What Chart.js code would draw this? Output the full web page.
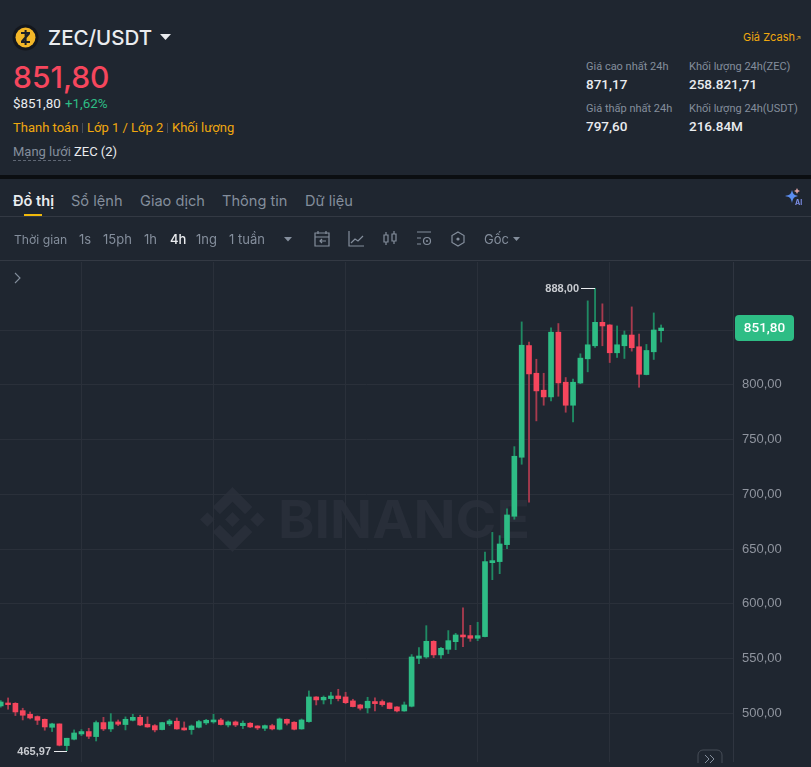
<!DOCTYPE html>
<html>
<head>
<meta charset="utf-8">
<title>ZEC/USDT</title>
<script src="https://cdn.jsdelivr.net/npm/chart.js@4"></script>
<style>
  html, body { margin: 0; padding: 0; background: #1f2630; overflow: hidden; }
  body { width: 811px; height: 767px; position: relative; font-family: Inter, "Liberation Sans", Arial, sans-serif; color: #eaecef; }
  .t { position: absolute; white-space: nowrap; line-height: 1; }
  .r { font-family: Roboto, sans-serif; }
  .gold { color: #f0a80f; }
  .grey { color: #848e9c; }
  .sep { position: absolute; top: 123px; width: 1px; height: 10px; background: #474d57; }
  .hline { position: absolute; left: 0; width: 811px; height: 1px; background: #333943; }
  .tab { font-size: 14.6px; color: #848e9c; top: 194px; }
  .tool { font-size: 13px; color: #848e9c; top: 233px; }
  .lab { font-size: 11px; color: #848e9c; font-family: Roboto, sans-serif; }
  .val { font-size: 13.5px; color: #eaecef; font-weight: 500; font-family: Roboto, sans-serif; }
  svg.abs { position: absolute; left: 0; top: 0; }
  #chartWrap { position: absolute; left: 0; top: 262px; width: 811px; height: 500px; }
</style>
</head>
<body>

<!-- watermark sits under the transparent canvas -->
<svg class="abs" width="811" height="767">
  <g fill="#282e39" transform="translate(200,487) scale(0.513)">
    <path d="M38.73 53.2l24.59-24.58 24.6 24.6 14.3-14.31L63.32 0 24.42 38.9l14.31 14.3M0 63.31l14.3-14.31 14.31 14.31-14.31 14.3zM38.73 73.41l24.59 24.59 24.6-24.6 14.31 14.29-38.9 38.91-38.91-38.88-.02-.02 14.33-14.29M98 63.31l14.3-14.31 14.31 14.3-14.31 14.32zM77.83 63.3L63.32 48.78 52.59 59.51l-1.24 1.23-2.54 2.54 14.51 14.5 14.51-14.47z"/>
  </g>
  <text x="278" y="538" fill="#282e39" font-family="Inter" font-weight="700" font-size="52" textLength="252" lengthAdjust="spacingAndGlyphs">BINANCE</text>
</svg>

<div id="chartWrap"><canvas id="candleChart" width="811" height="500"></canvas></div>

<!-- header -->
<svg class="abs" width="811" height="180">
  <circle cx="25.5" cy="37.5" r="13" fill="#14171d"/>
  <circle cx="25.5" cy="37.5" r="10" fill="#f4b728"/>
  <path d="M21 32h9v2l-6 7h6v2h-9v-2l6-7h-6z M24.6 30h2v15h-2z" fill="#1c1f26"/>
  <path d="M160 34h11l-5.5 6z" fill="#eaecef"/>
  <path d="M796.5 40l3.5-3.5m-2.5 0h2.500v2.500" stroke="#c99a2e" fill="none" stroke-width="0.9"/>
</svg>
<div class="t" style="left:48px;top:28px;font-size:20.5px;font-weight:500;">ZEC/USDT</div>
<div class="t" style="left:13px;top:62px;font-size:30px;font-weight:500;color:#f6465d;">851,80</div>
<div class="t r" style="left:13px;top:97px;font-size:13.4px;">$851,80</div>
<div class="t r" style="left:65px;top:97px;font-size:13.4px;color:#2ebd85;">+1,62%</div>
<div class="t r gold" style="left:13px;top:121px;font-size:13px;">Thanh toán</div>
<div class="sep" style="left:82px;"></div>
<div class="t r gold" style="left:87px;top:121px;font-size:13px;">Lớp 1 / Lớp 2</div>
<div class="sep" style="left:167px;"></div>
<div class="t r gold" style="left:172px;top:121px;font-size:13px;">Khối lượng</div>
<div class="t r grey" style="left:13px;top:145px;font-size:13px;padding-bottom:2px;border-bottom:1px dashed #5e6673;">Mạng lưới</div>
<div class="t r" style="left:74px;top:145px;font-size:13px;">ZEC (2)</div>

<div class="t gold" style="left:743px;top:32px;font-size:11px;">Giá Zcash</div>
<div class="t lab" style="left:586px;top:61px;">Giá cao nhất 24h</div>
<div class="t val" style="left:586px;top:78px;">871,17</div>
<div class="t lab" style="left:586px;top:103px;">Giá thấp nhất 24h</div>
<div class="t val" style="left:586px;top:120px;">797,60</div>
<div class="t lab" style="left:689px;top:61px;">Khối lượng 24h(ZEC)</div>
<div class="t val" style="left:689px;top:78px;">258.821,71</div>
<div class="t lab" style="left:689px;top:103px;">Khối lượng 24h(USDT)</div>
<div class="t val" style="left:689px;top:120px;">216.84M</div>

<div style="position:absolute;left:0;top:175px;width:811px;height:4px;background:#0b0e11;"></div>

<!-- tabs -->
<div class="t tab" style="left:13px;color:#eaecef;font-weight:600;">Đồ thị</div>
<div class="t tab" style="left:71px;">Sổ lệnh</div>
<div class="t tab" style="left:140px;">Giao dịch</div>
<div class="t tab" style="left:222px;">Thông tin</div>
<div class="t tab" style="left:305px;">Dữ liệu</div>
<div style="position:absolute;left:24px;top:214px;width:18px;height:2px;background:#f0b90b;"></div>
<div class="hline" style="top:216px;"></div>

<svg class="abs" width="811" height="290">
  <path d="M792 190c1 4 2 5 6 6-4 1-5 2-6 7-1-5-2-6-7-7 5-1 6-2 7-6z" fill="#5b8def"/>
  <path d="M797 188l1 2 2 1-2 1-1 2-1-2-2-1 2-1z" fill="#d9a0a0"/>
  <text x="795" y="205" fill="#7d8fe8" font-size="7" font-weight="700" font-family="Inter">AI</text>
  <g fill="none" stroke="#848e9c" stroke-width="1.2">
    <path d="M315 233h14v13h-14z M315 237h14 M318 231v3 M326 231v3 M326 241h-6m2-2l-2 2 2 2"/>
    <path d="M349 231v15h15 M351 243l4-4 3 2 5-5"/>
    <path d="M384 235h4v7h-4z M392 234h4v7h-4z M386 232v3 M386 242v3 M394 231v3 M394 241v3"/>
    <path d="M417 232h14 M417 238h4 M417 244h4"/>
    <circle cx="427" cy="241" r="3.5"/>
    <path d="M458 232l6 3.5v7l-6 3.5-6-3.5v-7z"/>
  </g>
  <circle cx="427" cy="241" r="1" fill="#848e9c"/>
  <circle cx="458" cy="239" r="1.6" fill="#848e9c"/>
  <path d="M284 237h8l-4 4.5z M513 237h7l-3.500 4z" fill="#848e9c"/>
  <path d="M15 273l5 5-5 5" stroke="#848e9c" fill="none" stroke-width="1.1"/>
</svg>
<div class="t tool" style="left:14px;font-size:12.2px;top:233.500px;">Thời gian</div>
<div class="t tool" style="left:79px;">1s</div>
<div class="t tool" style="left:103px;">15ph</div>
<div class="t tool" style="left:144px;">1h</div>
<div class="t tool" style="left:170px;color:#eaecef;font-weight:500;">4h</div>
<div class="t tool" style="left:196px;">1ng</div>
<div class="t tool" style="left:229px;">1 tuần</div>
<div class="t tool" style="left:484px;">Gốc</div>
<div class="hline" style="top:260px;"></div>

<!-- scroll to latest button -->
<svg class="abs" width="811" height="767" style="pointer-events:none;">
  <path d="M698 763v-8a5 5 0 0 1 5-5h14a5 5 0 0 1 5 5v8" fill="#1f2630" stroke="#474d57"/>
  <path d="M705 755l4 4-4 4 M710 755l4 4-4 4" stroke="#848e9c" fill="none"/>
</svg>

<script>
const opens = [506.7, 509.4, 509.1, 502.4, 499.1, 497.0, 494.5, 487.2, 490.3, 470.5,
  476.3, 481.1, 483.3, 478.7, 491.5, 485.7, 492.1, 489.7, 493.6, 496.3,
  490.0, 488.7, 485.1, 490.3, 492.7, 486.6, 485.1, 487.2, 491.2, 492.1,
  493.9, 489.3, 492.1, 488.7, 490.9, 488.4, 486.3, 488.7, 485.4, 494.5,
  491.8, 485.7, 492.4, 514.9, 512.2, 513.4, 515.8, 514.9, 511.3, 507.6,
  504.9, 510.7, 510.7, 509.4, 505.8, 502.1, 506.4, 550.2, 551.4, 565.7,
  553.3, 558.4, 565.4, 571.5, 570.9, 568.5, 570.0, 637.5, 638.5, 654.0,
  679.9, 733.8, 835.8, 810.5, 795.0, 788.9, 848.0, 802.3, 781.3, 801.6,
  823.7, 835.6, 857.0, 854.6, 829.2, 835.6, 845.4, 834.7, 809.3, 830.1, 849.4];
const highs = [511.6, 514.0, 509.7, 504.6, 501.2, 497.6, 494.8, 490.9, 490.3, 477.2,
  484.8, 485.1, 486.3, 493.0, 496.3, 499.7, 493.9, 496.7, 499.1, 498.2,
  496.7, 489.7, 491.8, 494.5, 495.7, 492.1, 489.3, 493.6, 494.5, 499.1,
  495.4, 493.0, 493.0, 493.0, 491.5, 488.7, 489.3, 490.0, 495.7, 494.8,
  492.4, 494.8, 520.4, 515.2, 515.8, 519.2, 521.9, 519.2, 512.8, 508.2,
  514.6, 514.0, 512.2, 509.7, 506.1, 510.3, 553.6, 559.9, 580.0, 566.3,
  560.3, 575.5, 573.0, 596.2, 580.3, 583.1, 647.3, 665.2, 662.2, 686.8,
  743.5, 857.4, 838.9, 823.3, 810.5, 851.9, 855.9, 806.6, 805.1, 828.3,
  876.6, 888.0, 873.9, 854.9, 853.7, 849.1, 871.1, 846.3, 836.8, 865.6, 854.6];
const lows = [505.5, 503.7, 497.9, 493.9, 494.8, 489.7, 484.5, 483.3, 470.2, 465.97,
  475.7, 479.6, 476.9, 474.7, 484.2, 483.3, 488.7, 484.8, 493.0, 488.7,
  487.2, 483.0, 484.8, 488.7, 485.4, 484.5, 480.8, 486.6, 489.7, 490.9,
  489.3, 487.5, 487.8, 486.0, 486.9, 485.1, 484.2, 484.8, 484.8, 489.3,
  484.8, 485.4, 491.8, 507.6, 508.5, 508.5, 511.3, 508.8, 505.8, 503.0,
  500.3, 502.1, 506.4, 504.0, 501.2, 501.8, 505.8, 545.3, 550.2, 550.8,
  550.2, 554.5, 558.1, 560.9, 565.7, 566.3, 569.7, 622.0, 627.5, 650.3,
  677.2, 727.4, 692.7, 767.0, 781.3, 785.3, 789.5, 774.9, 766.1, 801.0,
  811.8, 834.1, 835.6, 820.3, 824.9, 824.0, 830.7, 797.7, 809.0, 823.1, 839.0];
const closes = [510.3, 507.9, 501.2, 498.2, 495.7, 493.6, 487.5, 490.3, 470.8, 477.2,
  482.0, 483.3, 479.0, 491.5, 485.7, 492.1, 490.0, 494.5, 496.3, 489.3,
  487.5, 484.8, 491.5, 493.0, 485.7, 484.8, 488.4, 492.4, 493.6, 493.9,
  489.7, 492.1, 489.3, 490.9, 487.5, 486.6, 488.7, 485.7, 494.8, 490.9,
  485.4, 493.9, 514.9, 512.2, 514.6, 515.8, 513.4, 509.7, 506.1, 504.6,
  511.0, 508.8, 507.9, 504.3, 502.1, 507.6, 551.4, 552.3, 565.7, 553.3,
  559.3, 566.3, 571.5, 569.7, 568.5, 570.9, 638.5, 639.4, 654.6, 681.1,
  734.7, 836.1, 809.9, 794.4, 788.9, 848.0, 801.7, 781.3, 802.3, 824.3,
  836.5, 857.0, 853.7, 829.2, 836.5, 845.4, 833.8, 809.6, 831.3, 850.0, 851.8];

const priceTicks = [500, 550, 600, 650, 700, 750, 800, 850];
const gridCandles = [11, 29, 47, 65, 83];
const lastPrice = 851.8;
const hiddenTick = 850;

const UP = "#2ebd85";
const DOWN = "#f6465d";
const UP_WICK = "#1f8a63";
const DOWN_WICK = "#a83a4e";
const GRID = "#2a303a";

const priceText = (v) => v.toFixed(2).replace(".", ",");
const isUp = (i) => closes[i] >= opens[i];

const bodies = opens.map((o, i) => ({ x: i, y: [o, closes[i]] }));
const wicks = lows.map((l, i) => ({ x: i, y: [l, highs[i]] }));

// labels on the canvas: high, low and the last-price badge
const markers = {
  id: "markers",
  afterDatasetsDraw(chart) {
    const { ctx, scales } = chart;
    const hiIdx = highs.indexOf(Math.max(...highs));
    const loIdx = lows.indexOf(Math.min(...lows));
    ctx.save();
    ctx.font = "bold 11px 'Liberation Sans'";
    ctx.textBaseline = "middle";
    ctx.fillStyle = "#c9ccd1";
    ctx.strokeStyle = "#eaecef";
    ctx.lineWidth = 1;

    const hx = Math.round(scales.x.getPixelForValue(hiIdx));
    const hy = Math.round(scales.y.getPixelForValue(highs[hiIdx])) + 0.5;
    ctx.textAlign = "right";
    ctx.fillText(priceText(highs[hiIdx]), hx - 16, hy);
    ctx.beginPath();
    ctx.moveTo(hx - 14, hy);
    ctx.lineTo(hx, hy);
    ctx.stroke();

    const lx = Math.round(scales.x.getPixelForValue(loIdx));
    const ly = Math.round(scales.y.getPixelForValue(lows[loIdx])) + 0.5;
    ctx.fillText(priceText(lows[loIdx]), lx - 16, ly);
    ctx.beginPath();
    ctx.moveTo(lx - 13, ly);
    ctx.lineTo(lx, ly);
    ctx.stroke();

    const by = scales.y.getPixelForValue(lastPrice);
    ctx.fillStyle = UP;
    ctx.beginPath();
    ctx.roundRect(735, by - 13, 59, 26, 4);
    ctx.fill();
    ctx.fillStyle = "#ffffff";
    ctx.font = "500 13.5px Roboto";
    ctx.textAlign = "center";
    ctx.fillText(priceText(lastPrice), 764.5, by + 0.5);
    ctx.restore();
  },
};

new Chart(document.getElementById("candleChart").getContext("2d"), {
  type: "bar",
  data: {
    datasets: [
      {
        label: "body",
        data: bodies,
        barThickness: 5,
        backgroundColor: bodies.map((b, i) => (isUp(i) ? UP : DOWN)),
        grouped: false,
      },
      {
        label: "wick",
        data: wicks,
        barThickness: 1.2,
        backgroundColor: wicks.map((w, i) => (isUp(i) ? UP_WICK : DOWN_WICK)),
        grouped: false,
      },
    ],
  },
  options: {
    responsive: false,
    animation: false,
    layout: { padding: 0, autoPadding: false },
    plugins: { legend: { display: false }, tooltip: { enabled: false } },
    scales: {
      x: {
        type: "linear",
        offset: false,
        min: -0.1,
        max: 99.8,
        grid: { color: GRID, drawTicks: false, offset: false },
        border: { display: false },
        ticks: { display: false },
        afterBuildTicks(scale) {
          scale.ticks = gridCandles.map((value) => ({ value }));
        },
        afterFit(scale) {
          scale.height = 0;
        },
      },
      y: {
        position: "right",
        min: 455.5,
        max: 912.1,
        grid: { color: GRID, drawTicks: false },
        border: { color: "#2f3540" },
        ticks: {
          color: "#8f949e",
          padding: 9,
          crossAlign: "near",
          font: { family: "'Liberation Sans'", size: 13 },
          callback: (v) => (v === hiddenTick ? "" : priceText(v)),
        },
        afterBuildTicks(scale) {
          scale.ticks = priceTicks.map((value) => ({ value }));
        },
        afterFit(scale) {
          scale.width = 78;
          scale.paddingTop = 0;
          scale.paddingBottom = 0;
        },
      },
    },
  },
  plugins: [markers],
});
</script>
</body>
</html>
